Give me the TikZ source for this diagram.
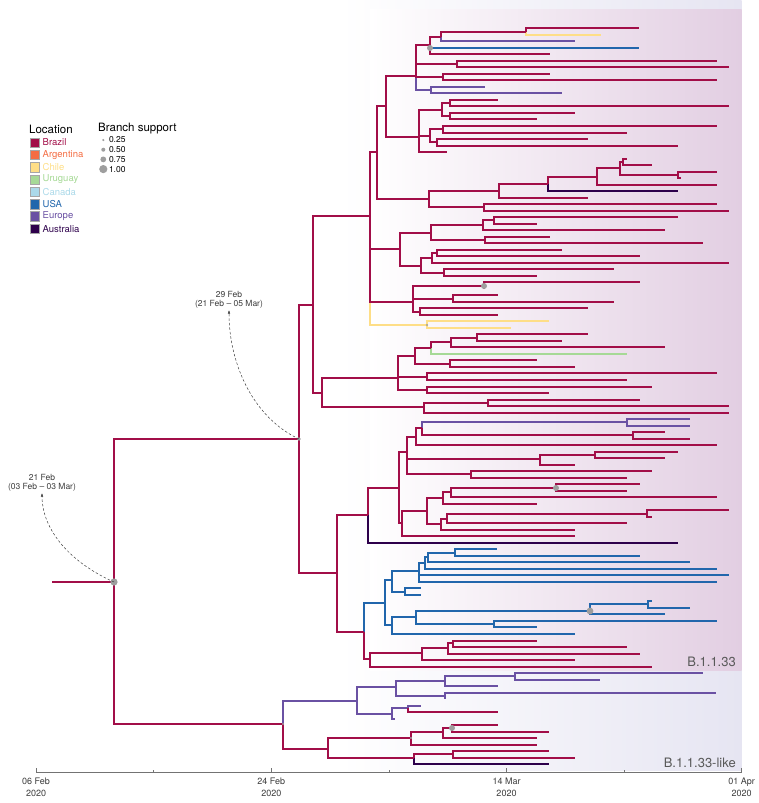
\documentclass[tikz,border=0pt]{standalone}
\usepackage{fontspec}
\setmainfont{TeX Gyre Heros}
\usepackage{xcolor}
\usetikzlibrary{arrows.meta}

% location colours
\definecolor{brazil}{RGB}{162,14,72}
\definecolor{argentina}{RGB}{244,109,67}
\definecolor{chile}{RGB}{254,222,135}
\definecolor{uruguay}{RGB}{166,217,150}
\definecolor{canada}{RGB}{171,217,233}
\definecolor{usa}{RGB}{33,102,172}
\definecolor{europe}{RGB}{106,81,163}
\definecolor{australia}{RGB}{45,0,75}
\definecolor{suppgray}{RGB}{158,158,158}
\definecolor{txtgray}{RGB}{60,60,60}
\definecolor{cladepink}{RGB}{226,206,226}
\definecolor{cladelav}{RGB}{230,229,242}

% tree node on the pixel grid
\newcommand{\treenode}[3]{\coordinate (#1) at ({round(#2)},{round(#3)});}

\begin{document}
\begin{tikzpicture}[x=1pt, y=-1pt,
    branch/.style={line width=2pt},
    annot/.style={draw=txtgray, line width=0.5pt, dash pattern=on 2.5pt off 2pt, -{Latex[length=3.5pt,width=2.5pt]}},
    annottext/.style={text=txtgray, font=\fontsize{8.5}{9}\selectfont, align=center, inner sep=2pt},
    cladelabel/.style={text=black!65, font=\fontsize{13}{13}\selectfont, inner sep=2pt},
    legbox/.style={draw=black!35, line width=0.4pt},
    legtext/.style={font=\fontsize{9.5}{10}\selectfont, anchor=west, inner sep=0pt}]
    \useasboundingbox (0,0) rectangle (758,803);

    % Clade shading
    \shade[left color=white, right color=cladelav] (340,0) rectangle (741.7,770.7);
    \shade[left color=white, right color=cladepink] (370,9.3) rectangle (741.7,670);

    % Tips (index / end of branch)
    \foreach \i/\x in {0/639,1/601,2/575,3/639,4/550,5/717,6/729,7/550,8/717,9/485,
        10/562,11/498,12/729,13/575,14/537,15/717,16/627,17/588,18/678,19/447,
        20/627,21/652,22/717,23/681,24/717,25/678,26/588,27/717,28/729,29/678,
        30/537,31/665,32/550,33/703,34/562,35/640,36/729,37/614,38/537,39/640,
        40/484,41/498,42/614,43/588,44/498,45/549,46/511,47/588,48/562,49/665,
        50/627,51/537,52/575,53/717,54/627,55/652,56/549,57/640,58/729,59/729,
        60/690,61/690,62/665,63/690,64/717,65/678,66/665,67/575,68/652,69/627,
        70/640,71/627,72/717,73/537,74/729,75/652,76/627,77/575,78/575,79/678,
        80/497,81/640,82/690,83/717,84/729,85/717,86/421,87/421,88/652,89/690,
        90/665,91/717,92/537,93/575,94/537,95/627,96/640,97/575,98/652,99/703,
        100/600,101/498,102/716,103/445,104/421,105/498,106/395,107/498,108/549,109/537,
        110/537,111/549,112/575,113/549}
        \coordinate (t\i) at (\x,{round(28.3+6.513*\i)});

    % Internal nodes
    \treenode{stem}{51.7}{581.7}
    \treenode{root}{114.3}{581.7}
    \treenode{J}{299.3}{439}
    \treenode{Z}{282.7}{724}
    \treenode{I}{313}{305}
    \treenode{AB}{337.3}{572.7}
    \treenode{F}{370}{216.3}
    \treenode{H}{321.7}{392.7}
    \treenode{E}{377}{151.7}
    \treenode{B}{386}{106}
    \treenode{T}{416}{75.7}
    \treenode{nA}{430}{45}
    \treenode{q1}{441}{36.5}
    \treenode{q2}{526}{31.6}
    \treenode{q3}{457}{64.2}
    \treenode{q4}{443}{77.2}
    \treenode{q5}{431}{90.2}
    \treenode{C}{419}{136.7}
    \treenode{q6}{442}{109.7}
    \treenode{q7}{450}{103.2}
    \treenode{q8}{450}{116.3}
    \treenode{D}{430}{135.8}
    \treenode{q9}{443}{129.3}
    \treenode{q10}{437}{142.3}
    \treenode{q11}{429}{199}
    \treenode{q12}{499}{190.7}
    \treenode{q13}{548}{184}
    \treenode{q14}{597}{176.7}
    \treenode{q15}{620}{168.3}
    \treenode{q16}{623}{161.9}
    \treenode{q17}{678}{175}
    \treenode{q18}{484}{207.4}
    \treenode{q19}{400}{249.3}
    \treenode{q20}{431}{232.7}
    \treenode{q21}{483}{225.3}
    \treenode{q22}{494}{220.4}
    \treenode{q23}{485}{240}
    \treenode{q24}{421}{266}
    \treenode{q25}{432}{258}
    \treenode{q26}{437}{253}
    \treenode{q27}{444}{272.5}
    \treenode{q28}{413}{301.7}
    \treenode{q29}{484}{285.5}
    \treenode{q30}{453}{298.5}
    \treenode{q31}{420}{311.6}
    \treenode{q32}{427}{324.6}
    \treenode{G}{398}{377.7}
    \treenode{q33}{415}{355.7}
    \treenode{q34}{431}{348}
    \treenode{q35}{451}{342.3}
    \treenode{q36}{477}{337.6}
    \treenode{q37}{450}{363.7}
    \treenode{q38}{427}{376.8}
    \treenode{q39}{427}{389.8}
    \treenode{q40}{424}{407.3}
    \treenode{q41}{488}{402.8}
    \treenode{AC}{368}{515}
    \treenode{N}{399}{487.7}
    \treenode{L}{407}{451.7}
    \treenode{q42}{416}{436.7}
    \treenode{q43}{422}{428.3}
    \treenode{q44}{627}{422.3}
    \treenode{q45}{633}{435.4}
    \treenode{q46}{540}{459.3}
    \treenode{q47}{595}{454.8}
    \treenode{q48}{471}{474.4}
    \treenode{O}{402}{523}
    \treenode{M}{427}{510.7}
    \treenode{q49}{443}{497.7}
    \treenode{q50}{451}{492.3}
    \treenode{q51}{556}{487.5}
    \treenode{q52}{441}{524.3}
    \treenode{q53}{447}{519.3}
    \treenode{q54}{647}{513.5}
    \treenode{P}{364}{631.7}
    \treenode{U}{385}{603.3}
    \treenode{q55}{392}{580}
    \treenode{q56}{419}{570.7}
    \treenode{q57}{425}{563.3}
    \treenode{q58}{428}{557.3}
    \treenode{q59}{455}{552.6}
    \treenode{q60}{405}{591.7}
    \treenode{q61}{392}{625}
    \treenode{q62}{415.7}{616.7}
    \treenode{q63}{590}{611}
    \treenode{q64}{648}{604.3}
    \treenode{q65}{494}{624}
    \treenode{Q}{370}{659}
    \treenode{R}{421.7}{653.3}
    \treenode{q66}{448}{648}
    \treenode{q67}{453}{643}
    \treenode{X}{356.7}{700.7}
    \treenode{q68}{396}{687.3}
    \treenode{q69}{445}{680.7}
    \treenode{q70}{515}{676}
    \treenode{q71}{445}{695.5}
    \treenode{q72}{391.7}{714}
    \treenode{q73}{408}{708.3}
    \treenode{q74}{327.7}{749}
    \treenode{q75}{411}{738.3}
    \treenode{q76}{442.7}{731.7}
    \treenode{q77}{451.7}{728}
    \treenode{q78}{414.3}{758}
    \treenode{q79}{452.7}{754}

    % Branches, other locations first
    \foreach \p/\c in {T/q5, q43/q44, Z/X, X/q68, X/q72, q68/q69, q68/q71, q69/q70, q72/q73,
        q1/t2, q5/t9, q5/t10, q44/t60, q44/t61, q70/t99, q70/t100, q69/t101,
        q71/t102, q71/t103, q73/t104, q72/t106}
        \draw[branch, europe] (\p) |- (\c);
    \foreach \p/\c in {P/U, U/q55, U/q61, q55/q56, q55/q60, q56/q57, q57/q58, q58/q59,
        q61/q62, q62/q63, q62/q65, q63/q64,
        nA/t3, q59/t80, q59/t81, q58/t82, q57/t83, q56/t84, q56/t85, q60/t86, q60/t87,
        q64/t88, q64/t89, q63/t90, q65/t91, q65/t92, q61/t93}
        \draw[branch, usa] (\p) |- (\c);
    \foreach \p/\c in {F/q32, q2/t1, q32/t45, q32/t46}
        \draw[branch, chile] (\p) |- (\c);
    \draw[branch, uruguay] (q34) |- (t50);
    \foreach \p/\c in {q13/t25, AC/t79, q78/t113}
        \draw[branch, australia] (\p) |- (\c);

    % Branches, Brazil
    \draw[branch, brazil] (stem) -- (root);
    \foreach \p/\c in {root/J, root/Z, J/I, J/AB, I/F, I/H, F/E, F/q19, F/q28, E/B, E/q11,
        B/T, B/C, T/nA, T/q3, T/q4, nA/q1, q1/q2, C/q6, C/D, q6/q7, q6/q8, D/q9, D/q10,
        q11/q12, q11/q18, q12/q13, q13/q14, q14/q15, q15/q16, q15/q17,
        q19/q20, q19/q24, q20/q21, q20/q23, q21/q22, q24/q25, q24/q27, q25/q26,
        q28/q29, q28/q30, q28/q31, H/G, H/q40, G/q33, G/q38, G/q39, q33/q34, q33/q37,
        q34/q35, q35/q36, q40/q41, AB/AC, AB/P, AC/N, N/L, N/O, L/q42, L/q46, L/q48,
        q42/q43, q43/q45, q46/q47, O/M, M/q49, M/q52, q49/q50, q50/q51, q52/q53, q53/q54,
        P/Q, Q/R, R/q66, q66/q67, Z/q74, q74/q75, q74/q78, q75/q76, q76/q77, q78/q79}
        \draw[branch, brazil] (\p) |- (\c);
    \foreach \p/\c in {q2/t0, nA/t4, q3/t5, q3/t6, q4/t7, q4/t8, q7/t11, q7/t12, q8/t13,
        q8/t14, q9/t15, q9/t16, q10/t17, q10/t18, C/t19, q16/t20, q16/t21, q17/t22,
        q17/t23, q14/t24, q12/t26, q18/t27, q18/t28, q22/t29, q22/t30, q21/t31,
        q23/t32, q23/t33, q26/t34, q26/t35, q25/t36, q27/t37, q27/t38, q29/t39,
        q29/t40, q30/t41, q30/t42, q31/t43, q31/t44, q36/t47, q36/t48, q35/t49,
        q37/t51, q37/t52, q38/t53, q38/t54, q39/t55, q39/t56, q41/t57, q41/t58,
        q40/t59, q45/t62, q45/t63, q42/t64, q47/t65, q47/t66, q46/t67, q48/t68,
        q48/t69, q51/t70, q51/t71, q50/t72, q49/t73, q54/t74, q54/t75, q53/t76,
        q52/t77, O/t78, q67/t94, q67/t95, q66/t96, R/t97, Q/t98, q73/t105,
        q77/t107, q77/t108, q76/t109, q75/t110, q79/t111, q79/t112}
        \draw[branch, brazil] (\p) |- (\c);

    % Branch support
    \fill[suppgray] (root) circle (3.6pt);
    \fill[suppgray] (J) circle (1.8pt);
    \fill[suppgray] (430,48) circle (3pt);
    \fill[suppgray] (q29) circle (3pt);
    \fill[suppgray] (q51) circle (3pt);
    \fill[suppgray] (q63) circle (3.4pt);
    \fill[suppgray] (q77) circle (3pt);
    \fill[suppgray] (q32) circle (1.2pt);
    \fill[suppgray] (Z) circle (1.2pt);
    \fill[suppgray] (q75) circle (1.2pt);

    % tMRCA annotations
    \node[annottext, anchor=south] (ann21) at (42,493) {21 Feb\\(03 Feb – 03 Mar)};
    \node[annottext, anchor=south] (ann29) at (229,310) {29 Feb\\(21 Feb – 05 Mar)};
    \draw[annot] (root) .. controls (65,560) and (42,526) .. (ann21.south);
    \draw[annot] (J) .. controls (254,418) and (229,365) .. (ann29.south);

    % Clade labels
    \node[cladelabel, anchor=south east] at (738,669) {B.1.1.33};
    \node[cladelabel, anchor=south east] at (738,770) {B.1.1.33-like};

    % Legend
    \node[font=\fontsize{11.5}{12}\selectfont, anchor=west, inner sep=0pt] at (29,129) {Location};
    \foreach \c/\n [count=\k from 0] in {brazil/Brazil, argentina/Argentina, chile/Chile,
        uruguay/Uruguay, canada/Canada, usa/USA, europe/Europe, australia/Australia} {
        \draw[legbox, fill=\c] (30,{137.8+12.3*\k}) rectangle ++(9.5,9.5);
        \node[legtext, text=\c] at (42.5,{142.6+12.3*\k}) {\n};
    }
    \node[font=\fontsize{11.5}{12}\selectfont, anchor=west, inner sep=0pt] at (98,129) {Branch support};
    \foreach \r/\v [count=\k from 0] in {1.2/0.25, 2/0.50, 2.9/0.75, 4.1/1.00} {
        \fill[suppgray] (103.3,{140+9.7*\k}) circle (\r pt);
        \node[legtext, font=\fontsize{8.5}{9}\selectfont] at (108.8,{140+9.7*\k}) {\v};
    }

    % Time axis
    \coordinate (ax0) at (36.1,772.5);
    \coordinate (ax1) at (741.7,772.5);
    \draw[black!55, line width=0.6pt] (ax0) -- (ax1);
    \foreach \k in {0,2,4,6}
        \draw[black!55, line width=0.6pt] ({36.1+117.6*\k},772.5) -- ++(0,-5);
    \foreach \k in {1,3,5}
        \draw[black!55, line width=0.6pt] ({36.1+117.6*\k},772.5) -- ++(0,-3);
    \foreach \k/\d in {0/06 Feb, 2/24 Feb, 4/14 Mar, 6/01 Apr}
        \node[text=txtgray, font=\fontsize{9}{12.5}\selectfont, align=center, anchor=north, inner sep=0pt]
            at ({36.1+117.6*\k},777.5) {\d\\2020};
\end{tikzpicture}
\end{document}
